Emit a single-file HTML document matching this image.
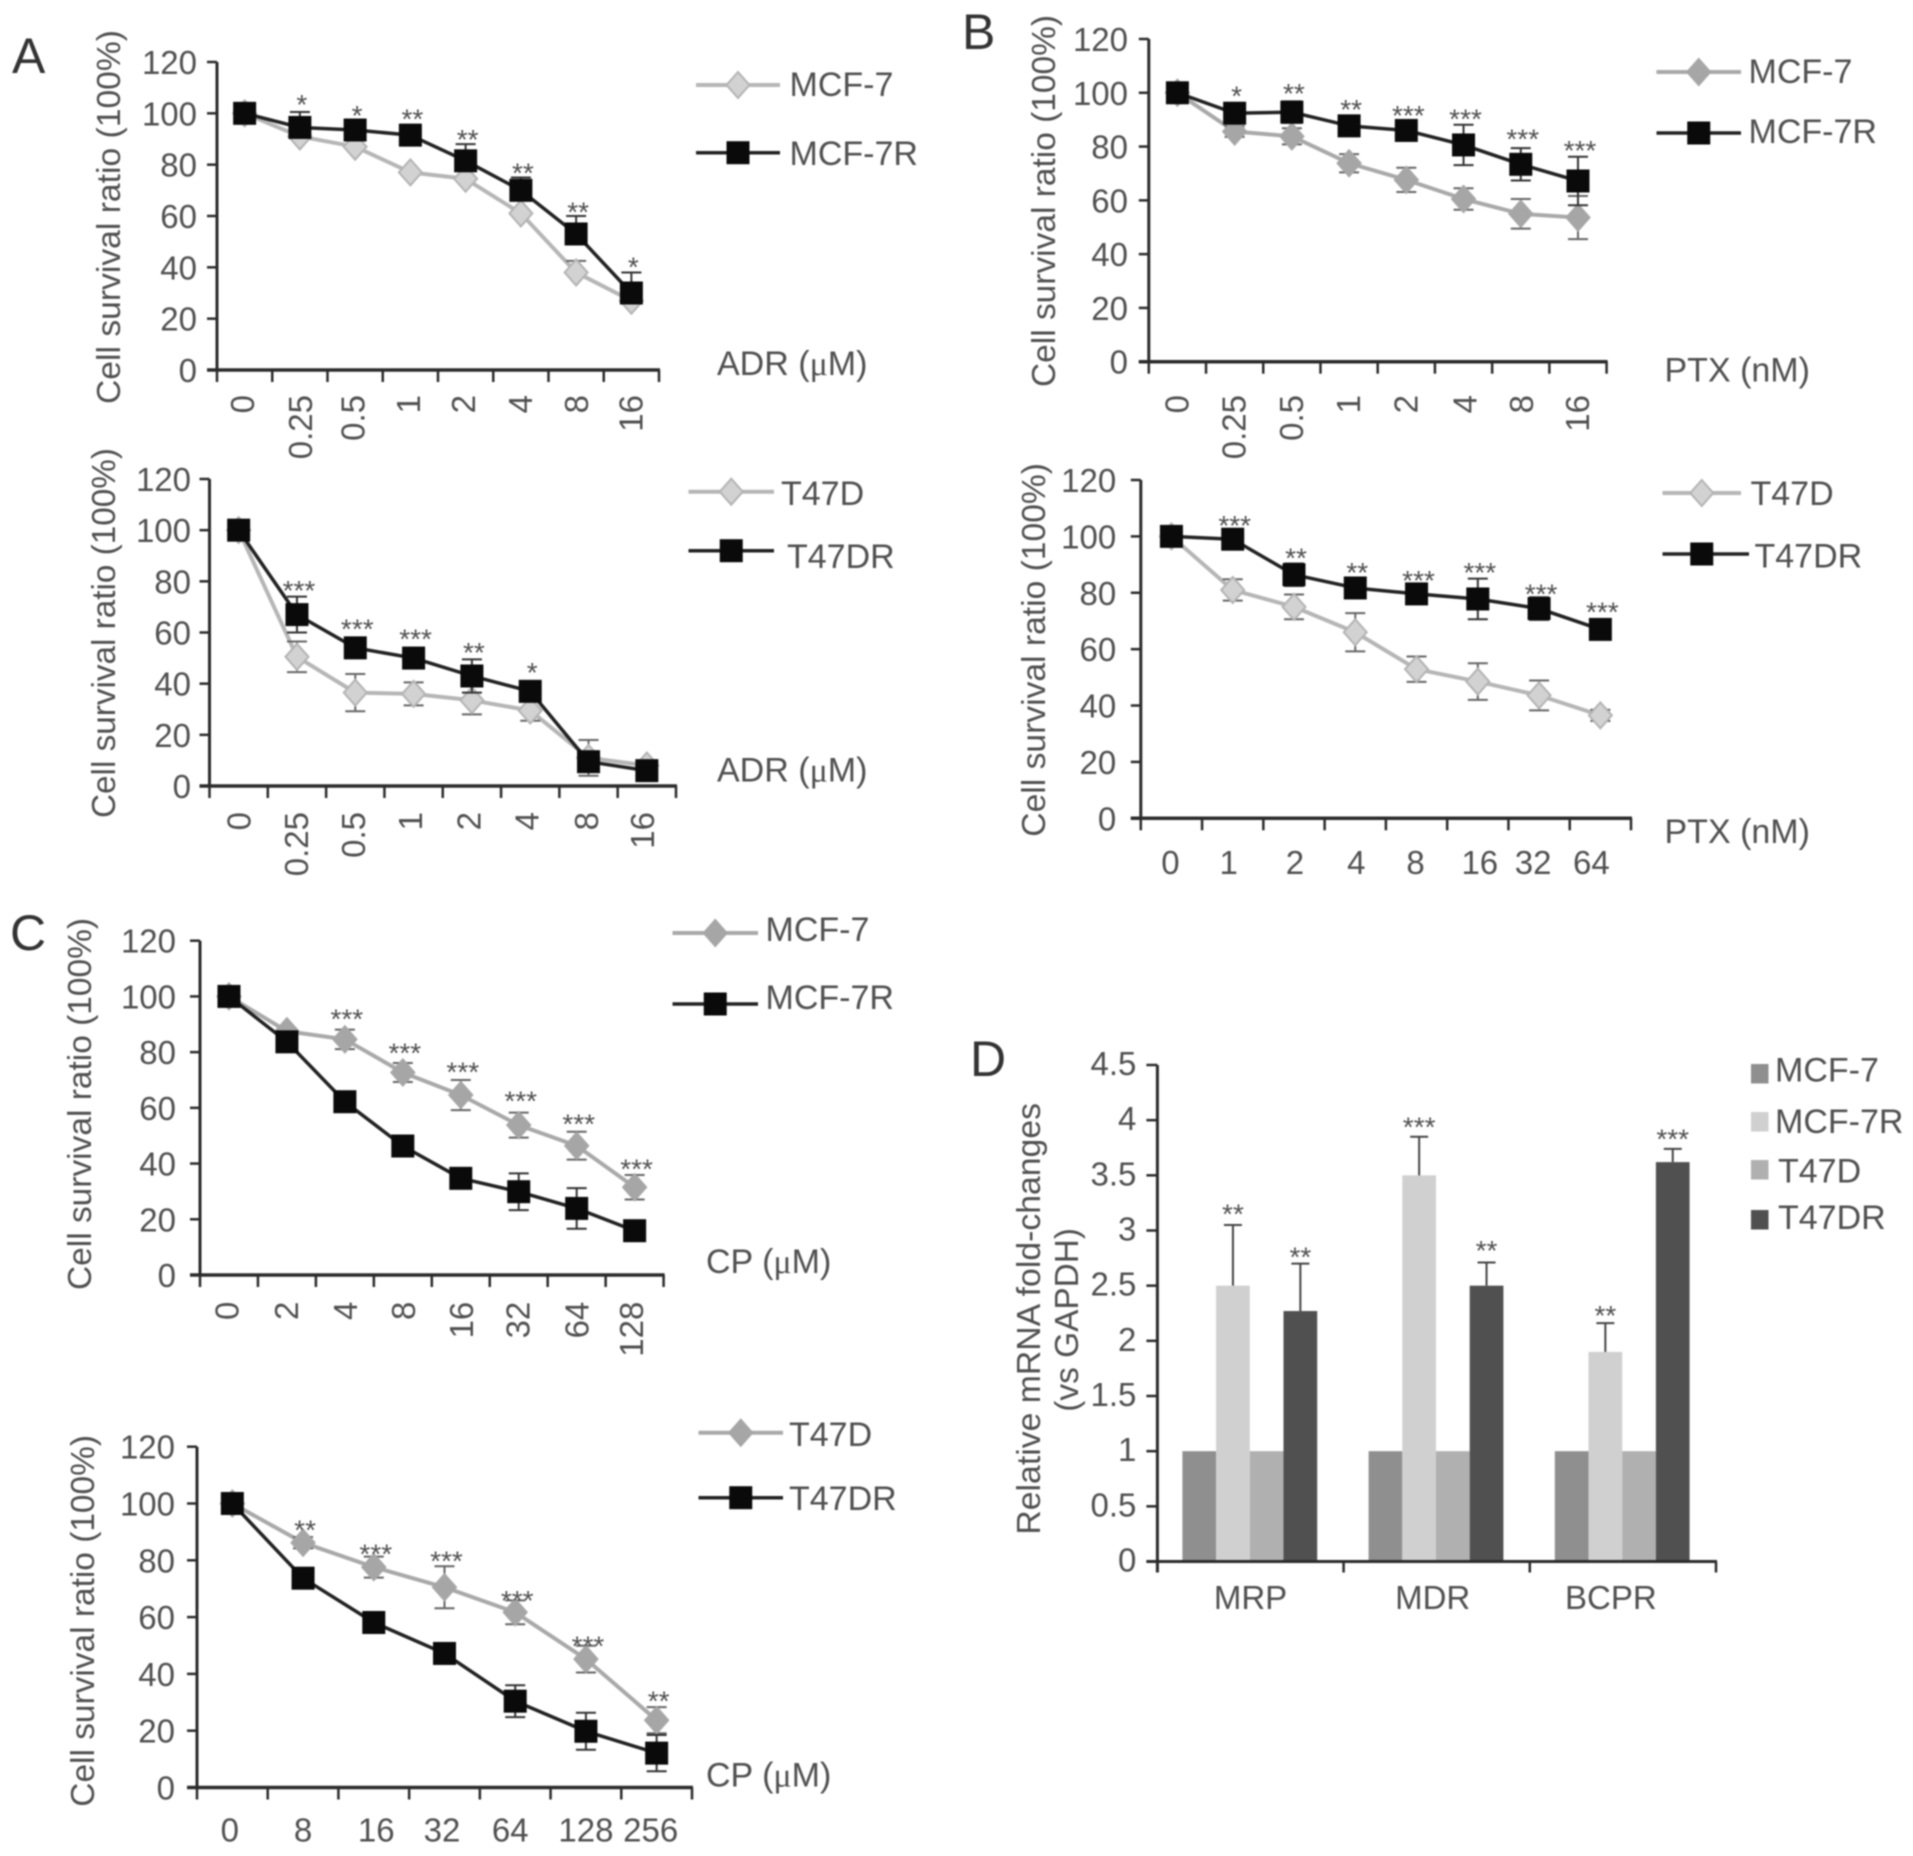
<!DOCTYPE html>
<html lang="en">
<head>
<meta charset="utf-8">
<title>Cell survival curves and mRNA fold-changes</title>
<style>
html,body{margin:0;padding:0;background:#fff;}
#figure{display:block;width:1913px;height:1856px;filter:blur(0.8px);background:#fff;}
text{font-family:"Liberation Sans",sans-serif;font-size:33px;fill:#505050;}
.letter{font-size:50px;fill:#333;}
.star{font-size:28px;fill:#505050;}
.xname{font-size:34px;}
.legend-text{font-size:34px;}
</style>
</head>
<body>
<svg id="figure" xmlns="http://www.w3.org/2000/svg" width="1913" height="1856" viewBox="0 0 1913 1856">
  <text class="letter" x="12" y="73">A</text>
  <text class="letter" x="962" y="49">B</text>
  <text class="letter" x="10" y="950">C</text>
  <text class="letter" x="970" y="1076">D</text>
</svg>
<script>
/* ---------- shared axis data ---------- */
const survivalTicks = [0, 20, 40, 60, 80, 100, 120];
const yTitleText = 'Cell survival ratio (100%)';

/* ---------- panel A top ---------- */
const a1Doses = ['0', '0.25', '0.5', '1', '2', '4', '8', '16'];
const a1Parent = [100, 91, 87, 77, 74.5, 61, 38, 27];
const a1ParentErr = [0, 0, 0, 0, 0, 0, 4.5, 0];
const a1Resistant = [100, 94.5, 93.5, 91.5, 81.5, 70, 53, 30];
const a1ResistantErr = [0, 6, 4, 4, 6.5, 5, 7, 8];
const a1Stars = ['', '*', '*', '**', '**', '**', '**', '*'];
const a1StarLevels = [0, 105.2, 100.9, 99.6, 91.6, 78.6, 63.4, 41.8];

/* ---------- panel A bottom ---------- */
const a2Doses = ['0', '0.25', '0.5', '1', '2', '4', '8', '16'];
const a2Parent = [100, 50.5, 36.5, 36, 33.5, 29.5, 11, 8];
const a2ParentErr = [0, 6, 7.3, 4.5, 5.5, 4, 7, 2];
const a2Resistant = [100, 67, 54, 50, 43, 37, 9.5, 6];
const a2ResistantErr = [0, 7, 4, 4, 6.5, 4, 3, 2];
const a2Stars = ['', '***', '***', '***', '**', '*', '', ''];
const a2StarLevels = [0, 78.1, 63.2, 59.2, 54, 46.2, 0, 0];

/* ---------- panel B top ---------- */
const b1Doses = ['0', '0.25', '0.5', '1', '2', '4', '8', '16'];
const b1Parent = [100, 85.6, 83.8, 73.8, 67.6, 60.5, 55, 53.6];
const b1ParentErr = [0, 2, 3, 3.4, 4.5, 4, 5.5, 8];
const b1Resistant = [100, 92.4, 92.8, 87.7, 86, 80.6, 73.4, 67.2];
const b1ResistantErr = [0, 3, 4, 3, 3, 7.5, 6, 9];
const b1Stars = ['', '*', '**', '**', '***', '***', '***', '***'];
const b1StarLevels = [0, 100.5, 101.4, 95.5, 93.3, 92, 84.4, 80.3];

/* ---------- panel B bottom ---------- */
const b2Doses = ['0', '1', '2', '4', '8', '16', '32', '64'];
const b2Parent = [100, 81, 75, 66, 52.9, 48.5, 43.6, 36.5];
const b2ParentErr = [0, 3.8, 4.4, 6.8, 4.5, 6.5, 5.3, 2];
const b2Resistant = [100, 99, 86.4, 81.7, 79.6, 77.8, 74.4, 67];
const b2ResistantErr = [0, 0, 4, 3, 3, 7.2, 4, 2];
const b2Stars = ['', '***', '**', '**', '***', '***', '***', '***'];
const b2StarLevels = [0, 105.4, 94, 88.7, 86, 88.7, 81.2, 74.7];

/* ---------- panel C top ---------- */
const c1Doses = ['0', '2', '4', '8', '16', '32', '64', '128'];
const c1Parent = [100, 87.5, 84.6, 72.7, 64.6, 53.8, 46.4, 31.5];
const c1ParentErr = [0, 1, 3.5, 3.4, 5.4, 4.5, 5, 4.4];
const c1Resistant = [100, 83.7, 62.2, 46.3, 34.7, 29.9, 23.9, 15.9];
const c1ResistantErr = [0, 1, 1, 1, 3, 6.6, 7.3, 1];
const c1Stars = ['', '', '***', '***', '***', '***', '***', '***'];
const c1StarLevels = [0, 0, 93.5, 81.3, 74.4, 64, 55.8, 39.7];

/* ---------- panel C bottom ---------- */
const c2Doses = ['0', '8', '16', '32', '64', '128', '256'];
const c2Parent = [100, 86.2, 77.6, 70.5, 61.7, 45.2, 23.7];
const c2ParentErr = [0, 2, 3.7, 7.4, 4.2, 4.7, 4.6];
const c2Resistant = [100, 73.7, 58.1, 47.2, 30.4, 19.8, 12.1];
const c2ResistantErr = [0, 1, 1, 1, 5.6, 6.5, 6.4];
const c2Stars = ['', '**', '***', '***', '***', '***', '**'];
const c2StarLevels = [0, 92.3, 83.8, 81.4, 67.5, 51.4, 32];

/* ---------- panel D ---------- */
const dGenes = ['MRP', 'MDR', 'BCPR'];
const dTicks = ['0', '0.5', '1', '1.5', '2', '2.5', '3', '3.5', '4', '4.5'];
const dSeriesNames = ['MCF-7', 'MCF-7R', 'T47D', 'T47DR'];
const dMcf7 = [1, 1, 1];
const dMcf7R = [2.5, 3.5, 1.9];
const dT47D = [1, 1, 1];
const dT47DR = [2.27, 2.5, 3.62];
const dMcf7RErr = [0.55, 0.35, 0.26];
const dT47DRErr = [0.43, 0.21, 0.12];
const dMcf7RStars = ['**', '***', '**'];
const dT47DRStars = ['**', '**', '***'];
const dMcf7RStarLevels = [3.19, 3.98, 2.27];
const dT47DRStarLevels = [2.8, 2.86, 3.87];

/* ---------- drawing ---------- */
const svgNS = 'http://www.w3.org/2000/svg';
const figure = document.getElementById('figure');

function make(tag, parent, attrs, text) {
  const node = document.createElementNS(svgNS, tag);
  for (const k in attrs) node.setAttribute(k, attrs[k]);
  if (text !== undefined) node.textContent = text;
  parent.appendChild(node);
  return node;
}

function rotatedTitle(parent, text, baseX, top, bottom) {
  const mid = (top + bottom) / 2;
  return make('text', parent, {
    transform: 'translate(' + baseX + ',' + mid + ') rotate(-90)',
    'text-anchor': 'middle',
    textLength: bottom - top,
    lengthAdjust: 'spacingAndGlyphs'
  }, text);
}

function xTitle(parent, text, x, y) {
  const node = make('text', parent, { x: x, y: y, class: 'xname' });
  const pieces = text.split('μ');
  pieces.forEach(function (piece, i) {
    if (i > 0) {
      make('tspan', node, { style: 'font-family:"Liberation Serif","DejaVu Serif",serif' }, 'μ');
    }
    make('tspan', node, {}, piece);
  });
  return node;
}

function markerSquare(parent, x, y) {
  return make('rect', parent, { x: x - 11.5, y: y - 11.5, width: 23, height: 23, fill: '#0a0a0a' });
}

function markerDiamond(parent, x, y, theme) {
  const pts = [[x, y - 13], [x + 11.5, y], [x, y + 13], [x - 11.5, y]].map(function (c) { return c.join(','); }).join(' ');
  return make('polygon', parent, { points: pts, fill: theme.fill, stroke: theme.edge, 'stroke-width': 2 });
}

const themes = {
  light: { fill: '#d2d2d2', edge: '#b4b4b4', line: '#b6b6b6', err: '#666' },
  mid: { fill: '#a6a6a6', edge: '#a6a6a6', line: '#a9a9a9', err: '#666' }
};

function errorPath(x, yTop, yBottom, upperOnly, yMid) {
  const cap = 10;
  let d = 'M' + (x - cap) + ' ' + yTop + 'H' + (x + cap) + 'M' + x + ' ' + yTop;
  if (upperOnly) {
    d += 'V' + yMid;
  } else {
    d += 'V' + yBottom + 'M' + (x - cap) + ' ' + yBottom + 'H' + (x + cap);
  }
  return d;
}

function drawLinePanel(p) {
  const theme = themes[p.theme];
  const group = make('g', figure, {});
  
  

  const n = p.doses.length;
  const step = (p.right - p.left) / n;
  const xAt = function (i) { return p.left + step * (i + 0.5); };
  const yAt = function (v) { return p.bottom - (p.bottom - p.top) * v / 120; };

  /* axes */
  const yAxis = make('line', group, { x1: p.left, x2: p.left, y1: p.top, y2: p.bottom, stroke: '#2b2b2b', 'stroke-width': 3 });
  
  
  const xAxis = make('line', group, { x1: p.left - 10, x2: p.right + 1, y1: p.bottom, y2: p.bottom, stroke: '#2b2b2b', 'stroke-width': 3.5 });
  
  

  survivalTicks.forEach(function (t) {
    const tick = make('line', group, { x1: p.left - 10, x2: p.left, y1: yAt(t), y2: yAt(t), stroke: '#2b2b2b', 'stroke-width': 2.5 });
    
    
    const label = make('text', group, { x: p.left - p.labelGap, y: yAt(t) + 12, 'text-anchor': 'end' }, String(t));
    
    
  });

  for (let i = 0; i <= n; i++) {
    const tx = p.left + step * i;
    const tick = make('line', group, { x1: tx, x2: tx, y1: p.bottom, y2: p.bottom + 12, stroke: '#2b2b2b', 'stroke-width': 2.5 });
    
    
  }

  p.doses.forEach(function (d, i) {
    const lx = xAt(i) + p.labelNudge[i];
    let label;
    if (p.rotateX) {
      label = make('text', group, {
        transform: 'translate(' + (lx + 12) + ',' + p.xLabelY + ') rotate(-90)',
        'text-anchor': 'end'
      }, d);
    } else {
      label = make('text', group, { x: lx, y: p.xLabelY, 'text-anchor': 'middle' }, d);
    }
    
    
  });

  const yTitle = rotatedTitle(group, yTitleText, p.titleX, p.titleTop, p.titleBottom);
  
  

  const xt = xTitle(group, p.xName, p.xNameX, p.xNameY);
  
  

  /* parent series */
  const parentLine = make('polyline', group, {
    points: p.parent.map(function (v, i) { return xAt(i) + ',' + yAt(v); }).join(' '),
    fill: 'none', stroke: theme.line, 'stroke-width': 4, 'stroke-linejoin': 'round'
  });
  
  

  p.parent.forEach(function (v, i) {
    const e = p.parentErr[i];
    if (e > 0) {
      const bar = make('path', group, {
        d: errorPath(xAt(i), yAt(v + e), yAt(v - e), p.upperOnly, yAt(v)),
        fill: 'none', stroke: theme.err, 'stroke-width': 2
      });
      
      
    }
    const mark = markerDiamond(group, xAt(i), yAt(v), theme);
    
    
  });

  /* resistant series */
  const resistantLine = make('polyline', group, {
    points: p.resistant.map(function (v, i) { return xAt(i) + ',' + yAt(v); }).join(' '),
    fill: 'none', stroke: '#222', 'stroke-width': 3.5, 'stroke-linejoin': 'round'
  });
  
  

  p.resistant.forEach(function (v, i) {
    const e = p.resistantErr[i];
    if (e > 0) {
      const bar = make('path', group, {
        d: errorPath(xAt(i), yAt(v + e), yAt(v - e), p.upperOnly, yAt(v)),
        fill: 'none', stroke: '#333', 'stroke-width': 2
      });
      
      
    }
    const mark = markerSquare(group, xAt(i), yAt(v));
    
    
  });

  /* significance stars */
  p.stars.forEach(function (s, i) {
    if (!s) return;
    const star = make('text', group, { x: xAt(i) + 2, y: yAt(p.starLevels[i]) + 14, 'text-anchor': 'middle', class: 'star' }, s);
    
    
  });

  /* legend */
  const lg = p.legend;
  const lg1 = make('line', group, { x1: lg.x1, x2: lg.x2, y1: lg.y1, y2: lg.y1, stroke: theme.line, 'stroke-width': 4 });
  
  
  const lm1 = markerDiamond(group, (lg.x1 + lg.x2) / 2, lg.y1, theme);
  
  
  const lt1 = make('text', group, { x: lg.tx1, y: lg.ty1, class: 'legend-text' }, p.names[0]);
  
  
  const lg2 = make('line', group, { x1: lg.x1, x2: lg.x2b || lg.x2, y1: lg.y2, y2: lg.y2, stroke: '#222', 'stroke-width': 3.5 });
  
  
  const lm2 = markerSquare(group, (lg.x1 + lg.x2) / 2, lg.y2);
  
  
  const lt2 = make('text', group, { x: lg.tx2, y: lg.ty2, class: 'legend-text' }, p.names[1]);
  
  
}

drawLinePanel({
  id: 'panel-a-mcf7', theme: 'light', names: ['MCF-7', 'MCF-7R'], rotateX: true, upperOnly: true,
  labelNudge: [-2.5, 0, -2.5, -2.5, -2.5, -1, 0, -1],
  doses: a1Doses, parent: a1Parent, parentErr: a1ParentErr, resistant: a1Resistant, resistantErr: a1ResistantErr, stars: a1Stars, starLevels: a1StarLevels,
  left: 217, right: 659, top: 62, bottom: 370, labelGap: 20, xLabelY: 395,
  titleX: 120, titleTop: 30, titleBottom: 404, xName: 'ADR (μM)', xNameX: 717, xNameY: 375,
  legend: { x1: 696, x2: 780, y1: 85, tx1: 789.5, ty1: 96, y2: 152.7, tx2: 789.5, ty2: 165 }
});
drawLinePanel({
  id: 'panel-a-t47d', theme: 'light', names: ['T47D', 'T47DR'], rotateX: true, upperOnly: false,
  labelNudge: [0, -1, -2.5, -3.5, -3.5, -3.5, -2.5, -5],
  doses: a2Doses, parent: a2Parent, parentErr: a2ParentErr, resistant: a2Resistant, resistantErr: a2ResistantErr, stars: a2Stars, starLevels: a2StarLevels,
  left: 209.5, right: 676, top: 479, bottom: 786, labelGap: 18.5, xLabelY: 812,
  titleX: 115, titleTop: 448, titleBottom: 818, xName: 'ADR (μM)', xNameX: 717, xNameY: 781.7,
  legend: { x1: 688.5, x2: 774, y1: 491.7, tx1: 781, ty1: 505, y2: 550.7, tx2: 787, ty2: 568 }
});
drawLinePanel({
  id: 'panel-b-mcf7', theme: 'mid', names: ['MCF-7', 'MCF-7R'], rotateX: true, upperOnly: false,
  labelNudge: [-1, -1, -1, -1, -1, 1, 0, -1],
  doses: b1Doses, parent: b1Parent, parentErr: b1ParentErr, resistant: b1Resistant, resistantErr: b1ResistantErr, stars: b1Stars, starLevels: b1StarLevels,
  left: 1148.8, right: 1606.6, top: 39, bottom: 361.7, labelGap: 20.8, xLabelY: 395,
  titleX: 1055, titleTop: 15, titleBottom: 387, xName: 'PTX (nM)', xNameX: 1664.5, xNameY: 381.7,
  legend: { x1: 1656.5, x2: 1741, y1: 72, tx1: 1748.5, ty1: 83, y2: 133, tx2: 1748.5, ty2: 143 }
});
drawLinePanel({
  id: 'panel-b-t47d', theme: 'light', names: ['T47D', 'T47DR'], rotateX: false, upperOnly: false,
  labelNudge: [-1, -4, 1, 1, -1, 2, -6, -9],
  doses: b2Doses, parent: b2Parent, parentErr: b2ParentErr, resistant: b2Resistant, resistantErr: b2ResistantErr, stars: b2Stars, starLevels: b2StarLevels,
  left: 1140.8, right: 1631, top: 480, bottom: 818.3, labelGap: 24.6, xLabelY: 874,
  titleX: 1045, titleTop: 463, titleBottom: 836.7, xName: 'PTX (nM)', xNameX: 1664.5, xNameY: 843,
  legend: { x1: 1662.5, x2: 1741, y1: 493, tx1: 1750.5, ty1: 505, y2: 554, x2b: 1749, tx2: 1754.5, ty2: 567.7 }
});
drawLinePanel({
  id: 'panel-c-mcf7', theme: 'mid', names: ['MCF-7', 'MCF-7R'], rotateX: true, upperOnly: false,
  labelNudge: [-2.5, -1, 0, 0, 0, -1, 0, -3.5],
  doses: c1Doses, parent: c1Parent, parentErr: c1ParentErr, resistant: c1Resistant, resistantErr: c1ResistantErr, stars: c1Stars, starLevels: c1StarLevels,
  left: 200, right: 663.6, top: 940.7, bottom: 1275, labelGap: 24, xLabelY: 1301.7,
  titleX: 91, titleTop: 918, titleBottom: 1290, xName: 'CP (μM)', xNameX: 706, xNameY: 1273,
  legend: { x1: 672.5, x2: 758, y1: 933, tx1: 765.5, ty1: 941, y2: 1004, tx2: 765.5, ty2: 1009 }
});
drawLinePanel({
  id: 'panel-c-t47d', theme: 'mid', names: ['T47D', 'T47DR'], rotateX: false, upperOnly: false,
  labelNudge: [-2.5, 0, 2.5, -2.5, -5, 0, -6],
  doses: c2Doses, parent: c2Parent, parentErr: c2ParentErr, resistant: c2Resistant, resistantErr: c2ResistantErr, stars: c2Stars, starLevels: c2StarLevels,
  left: 197, right: 692, top: 1446.7, bottom: 1787.5, labelGap: 22, xLabelY: 1841.7,
  titleX: 94, titleTop: 1435, titleBottom: 1806.7, xName: 'CP (μM)', xNameX: 706, xNameY: 1786.7,
  legend: { x1: 698.5, x2: 783, y1: 1432.7, tx1: 789, ty1: 1446, y2: 1497.7, tx2: 789, ty2: 1510 }
});

/* panel D: grouped bars */
(function drawBars() {
  const left = 1157.4, right = 1716, top = 1065, bottom = 1561.5, maxValue = 4.5;
  const yAt = function (v) { return bottom - (bottom - top) * v / maxValue; };
  const groupWidth = (right - left) / dGenes.length;
  const barWidth = 33.7;
  const barX = function (g, s) { return left + groupWidth * g + 25 + barWidth * s; };
  const barColors = ['#8f8f8f', '#d0d0d0', '#b0b0b0', '#505050'];
  const allSeries = [dMcf7, dMcf7R, dT47D, dT47DR];
  const geneNudge = [0, -4, -12];

  const group = make('g', figure, {});
  
  

  allSeries.forEach(function (series, s) {
    series.forEach(function (v, g) {
      const bar = make('rect', group, { x: barX(g, s), y: yAt(v), width: barWidth, height: bottom - yAt(v), fill: barColors[s] });
      
      
    });
  });

  function errorAndStars(series, errs, stars, levels, s, name) {
    series.forEach(function (v, g) {
      const cx = barX(g, s) + barWidth / 2;
      const bar = make('path', group, {
        d: 'M' + cx + ' ' + yAt(v) + 'V' + yAt(v + errs[g]) + 'M' + (cx - 9) + ' ' + yAt(v + errs[g]) + 'H' + (cx + 9),
        fill: 'none', stroke: '#444', 'stroke-width': 2
      });
      
      
      const star = make('text', group, { x: cx, y: yAt(levels[g]) + 14, 'text-anchor': 'middle', class: 'star' }, stars[g]);
      
      
    });
  }
  errorAndStars(dMcf7R, dMcf7RErr, dMcf7RStars, dMcf7RStarLevels, 1, 'mcf7r');
  errorAndStars(dT47DR, dT47DRErr, dT47DRStars, dT47DRStarLevels, 3, 't47dr');

  const yAxis = make('line', group, { x1: left, x2: left, y1: top, y2: bottom + 11, stroke: '#2b2b2b', 'stroke-width': 3 });
  
  
  const xAxis = make('line', group, { x1: left - 11, x2: right + 1, y1: bottom, y2: bottom, stroke: '#2b2b2b', 'stroke-width': 3 });
  
  

  dTicks.forEach(function (t) {
    const v = parseFloat(t);
    const tick = make('line', group, { x1: left - 11, x2: left, y1: yAt(v), y2: yAt(v), stroke: '#2b2b2b', 'stroke-width': 2.5 });
    
    
    const label = make('text', group, { x: left - 21, y: yAt(v) + 10, 'text-anchor': 'end' }, t);
    
    
  });

  for (let i = 0; i <= dGenes.length; i++) {
    const tx = left + groupWidth * i;
    const tick = make('line', group, { x1: tx, x2: tx, y1: bottom, y2: bottom + 11, stroke: '#2b2b2b', 'stroke-width': 2.5 });
    
    
  }

  dGenes.forEach(function (gene, g) {
    const label = make('text', group, { x: left + groupWidth * (g + 0.5) + geneNudge[g], y: 1609, 'text-anchor': 'middle' }, gene);
    
    
  });

  const title1 = rotatedTitle(group, 'Relative mRNA fold-changes', 1040, 1103, 1534.6);
  
  
  const title2 = rotatedTitle(group, '(vs GAPDH)', 1078, 1228, 1411.7);
  
  

  const swatchY = [1064, 1112, 1160, 1210];
  const legendTextX = [1775, 1775, 1778, 1778];
  const legendTextY = [1081.5, 1133, 1182.5, 1229];
  dSeriesNames.forEach(function (name, s) {
    const swatch = make('rect', group, { x: 1751, y: swatchY[s], width: 17.5, height: 19.5, fill: barColors[s] });
    
    
    const label = make('text', group, { x: legendTextX[s], y: legendTextY[s], class: 'legend-text' }, name);
    
    
  });
})();
</script>
</body>
</html>
